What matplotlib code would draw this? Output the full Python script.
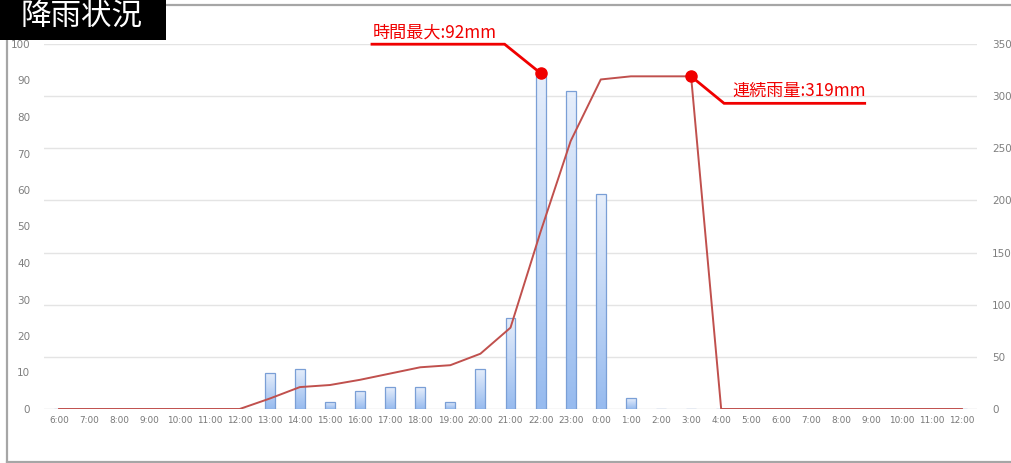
import numpy as np
import matplotlib
matplotlib.use("Agg")
import matplotlib.pyplot as plt
from matplotlib.patches import Rectangle
from matplotlib.colors import LinearSegmentedColormap
from matplotlib.lines import Line2D

# Hourly labels from 6:00 to 12:00 the next day
hours = ["6:00", "7:00", "8:00", "9:00", "10:00", "11:00", "12:00", "13:00",
         "14:00", "15:00", "16:00", "17:00", "18:00", "19:00", "20:00", "21:00",
         "22:00", "23:00", "0:00", "1:00", "2:00", "3:00", "4:00", "5:00",
         "6:00", "7:00", "8:00", "9:00", "10:00", "11:00", "12:00"]

# Hourly rainfall (mm), left axis
hourly_mm = [0, 0, 0, 0, 0, 0, 0, 10, 11, 2, 5, 6, 6, 2, 11, 25,
             92, 87, 59, 3, 0, 0, 0, 0, 0, 0, 0, 0, 0, 0, 0]

# Continuous rainfall total (mm), right axis
continuous_mm = [0, 0, 0, 0, 0, 0, 0, 10, 21, 23, 28, 34, 40, 42, 53, 78,
                 170, 257, 316, 319, 319, 319, 0, 0, 0, 0, 0, 0, 0, 0, 0]

left_ticks = [0, 10, 20, 30, 40, 50, 60, 70, 80, 90, 100]
right_ticks = [0, 50, 100, 150, 200, 250, 300, 350]
LEFT_MAX = 100
RIGHT_MAX = 350

title_text = "降雨状況"
peak_label = "時間最大:92mm"
total_label = "連続雨量:319mm"
peak_idx = 16
total_idx = 21

W, H, DPI = 1011, 463, 100
fig = plt.figure(figsize=(W / DPI, H / DPI), dpi=DPI)
fig.patch.set_facecolor("white")

ax = fig.add_axes([44 / W, 54 / H, 933 / W, 365 / H])
ax2 = ax.twinx()

x = np.arange(len(hours))
ax.set_xlim(-0.5, len(hours) - 0.5)
ax.set_ylim(0, LEFT_MAX)
ax2.set_ylim(0, RIGHT_MAX)

# Horizontal gridlines follow the right-hand scale
for v in right_ticks:
    ax.axhline(v / RIGHT_MAX * LEFT_MAX, color="#e4e4e4" if v else "#d9d9d9",
               lw=1.0, zorder=0)

# Bars with a vertical gradient fill
grad = LinearSegmentedColormap.from_list("rain", ["#97bbef", "#e6eefb"])
bar_w = 0.33
bars = ax.bar(x, hourly_mm, width=bar_w, facecolor="none",
              edgecolor="#7a9fd6", linewidth=0.9, zorder=3)
gvals = np.linspace(0, 1, 64).reshape(-1, 1)
for b, h in zip(bars, hourly_mm):
    if h <= 0:
        continue
    x0 = b.get_x()
    im = ax.imshow(gvals, cmap=grad, origin="lower", aspect="auto",
                   extent=(x0, x0 + bar_w, 0, h), zorder=2,
                   interpolation="bilinear")
    im.set_clip_path(b)
ax.set_xlim(-0.5, len(hours) - 0.5)
ax.set_ylim(0, LEFT_MAX)

# Continuous rainfall line
ax2.plot(x, continuous_mm, color="#c0504d", lw=1.4, zorder=4)

for a in (ax, ax2):
    for s in a.spines.values():
        s.set_visible(False)
    a.set_facecolor("none")

ax.set_xticks(x)
ax.set_xticklabels(hours)
ax.set_yticks(left_ticks)
ax2.set_yticks(right_ticks)
ax.tick_params(axis="x", length=0, pad=5, labelsize=6.4, colors="#777777")
ax.tick_params(axis="y", length=0, pad=10, labelsize=7.5, colors="#7f7f7f")
ax2.tick_params(axis="y", length=0, pad=11, labelsize=7.5, colors="#7f7f7f")

# Outer frame
fig.add_artist(Line2D([7 / W, 7 / W], [1 - 5 / H, 1 - 462 / H],
                      transform=fig.transFigure, color="#a6a6a6", lw=1.6))
fig.add_artist(Line2D([7 / W, 1.02], [1 - 462 / H, 1 - 462 / H],
                      transform=fig.transFigure, color="#a6a6a6", lw=1.6))
fig.add_artist(Line2D([7 / W, 1.02], [1 - 5 / H, 1 - 5 / H],
                      transform=fig.transFigure, color="#a6a6a6", lw=1.6))

# Title box
fig.add_artist(Rectangle((0, 1 - 40 / H), 166 / W, 40 / H,
                         transform=fig.transFigure, facecolor="black",
                         edgecolor="none", zorder=5))
fig.text(82 / W, 1 - 16 / H, title_text, color="white", fontsize=22,
         family=["Noto Sans CJK JP", "DejaVu Sans"], ha="center", va="center",
         zorder=6)

# Callouts drawn in pixel space relative to their data points
fig.canvas.draw()
to_fig = fig.transFigure.inverted()


def px_to_fig(px, py):
    return to_fig.transform((px, py))


def callout(axis, xi, yv, elbow, end, label, text_pos):
    dx, dy = axis.transData.transform((xi, yv))
    pts = [(dx, dy), (dx + elbow[0], dy + elbow[1]), (dx + end[0], dy + end[1])]
    fpts = np.array([px_to_fig(*p) for p in pts])
    fig.add_artist(Line2D(fpts[:, 0], fpts[:, 1], transform=fig.transFigure,
                          color="#f00000", lw=2.0, zorder=7,
                          solid_capstyle="butt", solid_joinstyle="miter"))
    fd = px_to_fig(dx, dy)
    fig.add_artist(Line2D([fd[0]], [fd[1]], transform=fig.transFigure,
                          marker="o", markersize=8, color="#f00000",
                          zorder=8))
    tx, ty = px_to_fig(dx + text_pos[0], dy + text_pos[1])
    fig.text(tx, ty, label, color="#f00000", fontsize=12.3,
             family=["Noto Sans CJK JP", "DejaVu Sans"], ha="left",
             va="center", zorder=8)


callout(ax, peak_idx, hourly_mm[peak_idx], (-36, 29), (-170, 29),
        peak_label, (-168, 41))
callout(ax2, total_idx, continuous_mm[total_idx], (33, -27), (175, -27),
        total_label, (41, -14))

fig.savefig("out.png", dpi=DPI, facecolor="white")
